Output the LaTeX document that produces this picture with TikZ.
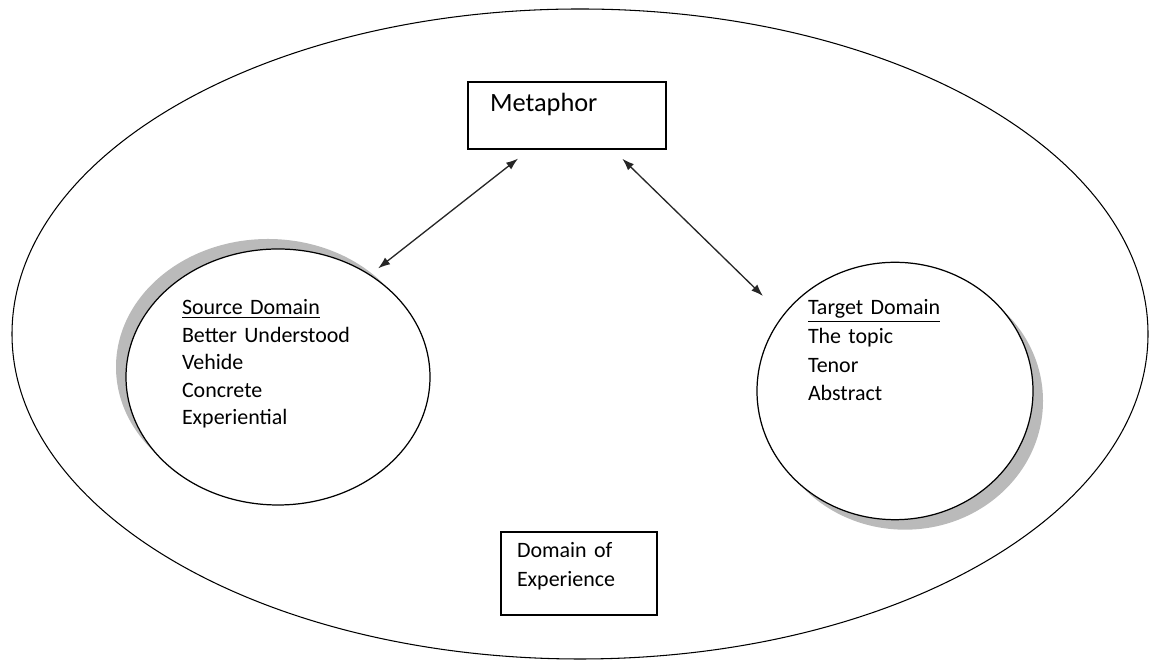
\documentclass[tikz,border=0pt]{standalone}
\usepackage{fontspec}
\setmainfont{Carlito}
\usepackage{tikz}
\usetikzlibrary{positioning,arrows.meta,shapes.geometric,shadows}

\begin{document}
\begin{tikzpicture}[
    >=stealth, line width=0.6pt,
    % --- box styles ---
    box/.style={draw, rectangle, align=left, text height=0.30cm,
                font=\fontsize{12.5}{16.5}\selectfont, line width=0.75pt},
    domcircle/.style={draw, ellipse, fill=white, inner sep=0pt, align=left,
                      text height=0.30cm, line width=0.7pt},
    % --- arrow style ---
    arr/.style={{Latex[length=0.24cm,width=0.17cm]}-{Latex[length=0.24cm,width=0.17cm]},
                line width=0.75pt, black!85},
]

%% =====================================================================
%%  COORDINATES (cm), 1cm = 50px of the 1150 x 660 frame
%% =====================================================================
\useasboundingbox (0,0) rectangle (23,13.2);

%% ---- OUTER DOMAIN OF EXPERIENCE ----
\node[draw, ellipse, minimum width=22.72cm, minimum height=13.0cm] (exp) at (11.60, 6.52) {};

%% ---- METAPHOR BOX ----
\node[box, minimum width=3.96cm, minimum height=1.34cm, inner xsep=0.44cm, inner ysep=0.30cm,
      text width=3.08cm, text depth=0.44cm, font=\fontsize{15}{18}\selectfont] (meta) at (11.34, 10.89)
    {Metaphor};

%% ---- SOURCE DOMAIN (shadow up-left) ----
\node[domcircle, minimum width=6.08cm, minimum height=5.12cm, text width=3.84cm, text depth=2.78cm,
      font=\fontsize{12.5}{15.6}\selectfont,
      drop shadow={shadow xshift=-0.2cm, shadow yshift=0.2cm, fill=black!27, opacity=1}] (src) at (5.56, 5.66)
    {\underline{Source Domain}\\
     Better Understood\\
     Vehide\\
     Concrete\\
     Experiential};

%% ---- TARGET DOMAIN (shadow down-right) ----
\node[domcircle, minimum width=5.52cm, minimum height=4.32cm, text width=3.48cm, text depth=3.34cm,
      font=\fontsize{12.5}{16.3}\selectfont,
      drop shadow={shadow xshift=0.2cm, shadow yshift=-0.2cm, fill=black!27, opacity=1}] (tgt) at (17.90, 5.38)
    {\underline{Target Domain}\\
     The topic\\
     Tenor\\
     Abstract};

%% ---- DOMAIN OF EXPERIENCE LABEL BOX ----
\node[box, minimum width=3.12cm, minimum height=1.66cm, inner xsep=0.32cm, inner ysep=0.22cm,
      text width=2.48cm, text depth=0.92cm] (doe) at (11.58, 1.73)
    {Domain of\\Experience};

%% =====================================================================
%%  ARROWS
%% =====================================================================
\draw[arr, shorten <=0.29cm, shorten >=0.20cm] ([xshift=-0.75cm]meta.south) -- (src.48);
\draw[arr, shorten <=0.26cm, shorten >=0.55cm] ([xshift=0.92cm]meta.south) -- (tgt.146);

\end{tikzpicture}
\end{document}
